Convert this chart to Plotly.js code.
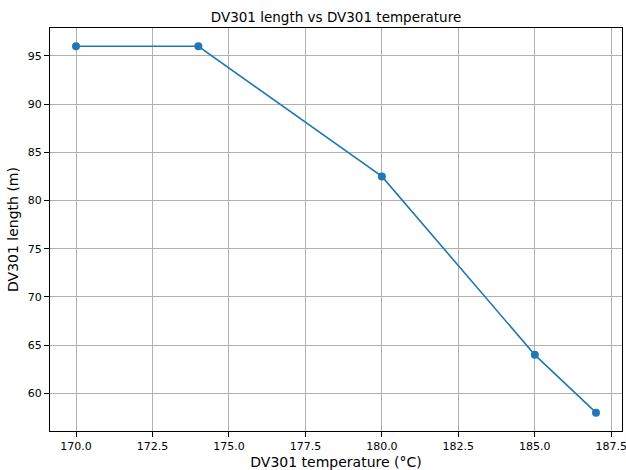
<!DOCTYPE html>
<html>
<head>
<meta charset="utf-8">
<script src="https://cdn.plot.ly/plotly-3.0.1.min.js"></script>
<style>html,body{margin:0;padding:0;background:#fff;}#chart{width:626px;height:470px;}</style>
</head>
<body>
<div id="chart"></div>
<script>
const temperature = [170, 174, 180, 185, 187];
const length = [96, 96, 82.5, 64, 58];
const xTicks = [170, 172.5, 175, 177.5, 180, 182.5, 185, 187.5];
const xTickLabels = ["170.0", "172.5", "175.0", "177.5", "180.0", "182.5", "185.0", "187.5"];
const yTicks = [60, 65, 70, 75, 80, 85, 90, 95];

const font = {family: "DejaVu Sans", size: 11, color: "#000"};
const axisCommon = {
  showline: true, linecolor: "#000", linewidth: 1, mirror: true,
  showgrid: true, gridcolor: "#b0b0b0", gridwidth: 1,
  ticks: "outside", ticklen: 5, tickcolor: "#000", tickwidth: 1,
  zeroline: false, tickfont: font, ticklabeloverflow: "allow"
};

Plotly.newPlot("chart", [{
  x: temperature, y: length, type: "scatter", mode: "lines+markers",
  line: {color: "#1f77b4", width: 1.6},
  marker: {color: "#1f77b4", size: 8}
}], {
  width: 626, height: 470,
  paper_bgcolor: "#fff", plot_bgcolor: "#fff",
  margin: {l: 50, r: 4, t: 28, b: 39},
  showlegend: false,
  title: {text: "DV301 length vs DV301 temperature", font: {family: "DejaVu Sans", size: 13.5, color: "#000"},
          x: 0.5, xref: "paper", y: 1 - 17/470, yref: "container", yanchor: "middle"},
  xaxis: Object.assign({}, axisCommon, {
    range: [169.15, 187.85], tickmode: "array", tickvals: xTicks, ticktext: xTickLabels,
    title: {text: "DV301 temperature (°C)", font: {family: "DejaVu Sans", size: 14, color: "#000"}, standoff: 5}
  }),
  yaxis: Object.assign({}, axisCommon, {
    range: [56.1, 97.9], tickmode: "array", tickvals: yTicks,
    title: {text: "DV301 length (m)", font: {family: "DejaVu Sans", size: 14, color: "#000"}, standoff: 5}
  })
}, {staticPlot: true});
</script>
</body>
</html>
